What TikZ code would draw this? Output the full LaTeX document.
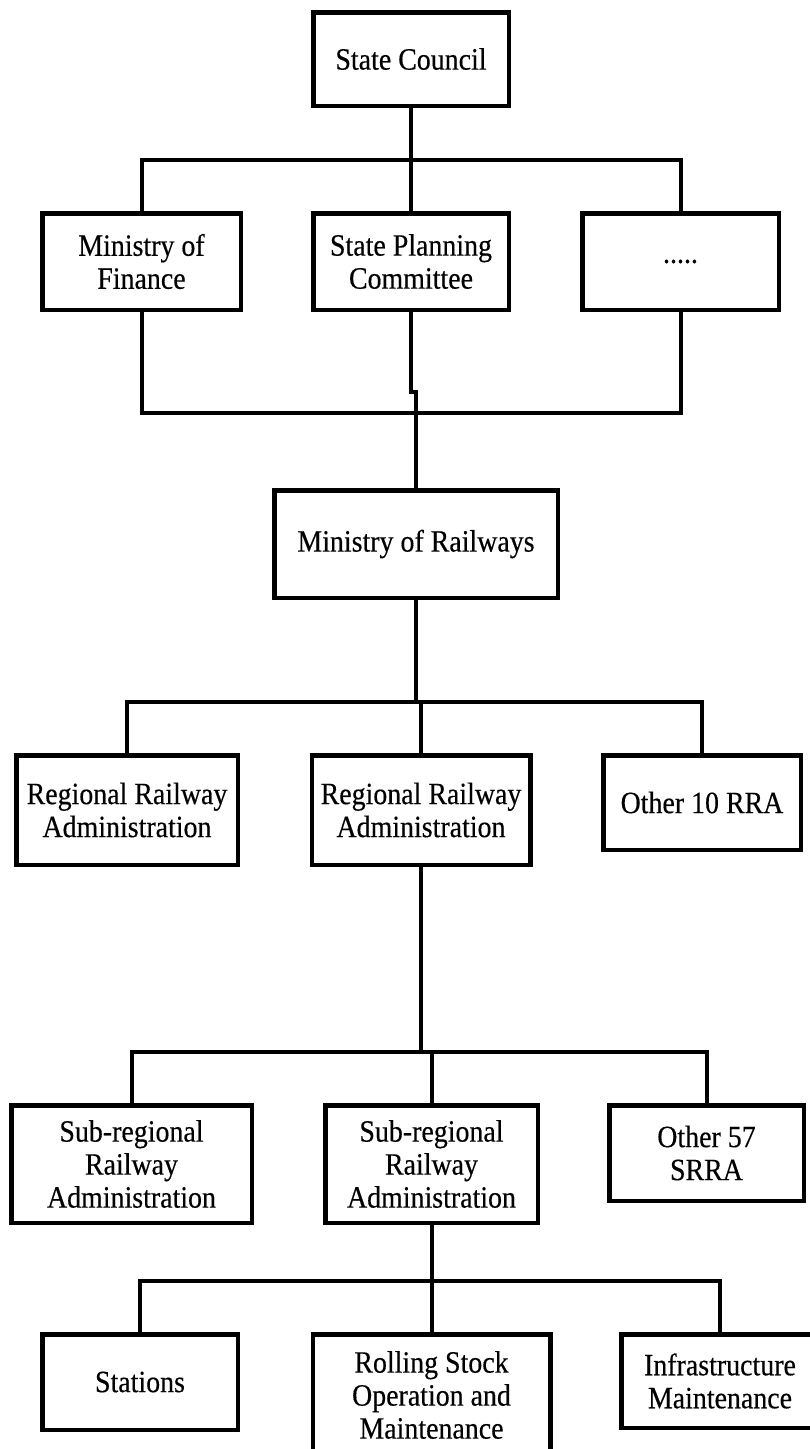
\documentclass[tikz,border=0pt]{standalone}
\usepackage{fontspec}
\setmainfont{Liberation Serif}[FakeStretch=0.9, FakeBold=0.4]
\begin{document}
\begin{tikzpicture}[x=1pt,y=-1pt,
  box/.style={draw, line width=4.5pt, align=center, inner sep=0pt, font=\fontsize{31}{33}\selectfont},
  conn/.style={line width=4pt}]
\useasboundingbox (0,0) rectangle (810,1449);
\clip (0,0) rectangle (810,1449);
% level 1
\node[box, minimum width=195.5pt, minimum height=93.5pt] (sc) at (411,59) {State Council};
% level 2
\node[box, minimum width=198.5pt, minimum height=96.5pt] (mof) at (141.5,261.5) {Ministry of\\Finance};
\node[box, minimum width=195.5pt, minimum height=96.5pt] (spc) at (411,261.5) {State Planning\\Committee};
\node[box, minimum width=196.5pt, minimum height=96.5pt] (dots) at (680.5,261.5) {.....};
% level 3
\node[box, minimum width=283.5pt, minimum height=107.5pt] (mor) at (416,544) {Ministry of Railways};
% level 4
\node[box, minimum width=221.5pt, minimum height=109.5pt] (rra1) at (127,810) {Regional Railway\\Administration};
\node[box, minimum width=218.5pt, minimum height=109.5pt] (rra2) at (421,810) {Regional Railway\\Administration};
\node[box, minimum width=197.5pt, minimum height=94.5pt] (rra3) at (702,802.5) {Other 10 RRA};
% level 5
\node[box, minimum width=240.5pt, minimum height=117.5pt] (srra1) at (131.5,1164) {Sub-regional\\Railway\\Administration};
\node[box, minimum width=212.5pt, minimum height=117.5pt] (srra2) at (431.5,1164) {Sub-regional\\Railway\\Administration};
\node[box, minimum width=194.5pt, minimum height=95.5pt] (srra3) at (706.5,1153) {Other 57\\SRRA};
% level 6
\node[box, minimum width=195.5pt, minimum height=95.5pt] (st) at (140,1382) {Stations};
\node[box, minimum width=237.5pt, minimum height=121.5pt] (rs) at (431.5,1395) {Rolling Stock\\Operation and\\Maintenance};
\node[box, minimum width=197.5pt, minimum height=93.5pt] (inf) at (720,1381) {Infrastructure\\Maintenance};
% connectors
\coordinate (b1) at (411,160);
\draw[conn] (sc.south) -- (spc.north);
\draw[conn] (mof.north) |- (b1) -| (dots.north);
\coordinate (b2) at (416,413);
\coordinate (j1) at (411,392);
\coordinate (j2) at (416,392);
\draw[conn] (spc.south) -- (j1) -- (j2) -- (mor.north);
\draw[conn] (mof.south) |- (b2) -| (dots.south);
\coordinate (b3) at (416,702);
\draw[conn] (mor.south) -- (b3);
\draw[conn] (rra1.north) |- (b3) -| (rra3.north);
\draw[conn] (rra2.north) -- (rra2.north |- b3);
\coordinate (b4) at (421,1052);
\draw[conn] (rra2.south) -- (b4);
\draw[conn] (srra1.north) |- (b4) -| (srra3.north);
\draw[conn] (srra2.north) -- (srra2.north |- b4);
\coordinate (b5) at (431.5,1281);
\draw[conn] (srra2.south) -- (rs.north);
\draw[conn] (st.north) |- (b5) -| (inf.north);
\end{tikzpicture}
\end{document}
